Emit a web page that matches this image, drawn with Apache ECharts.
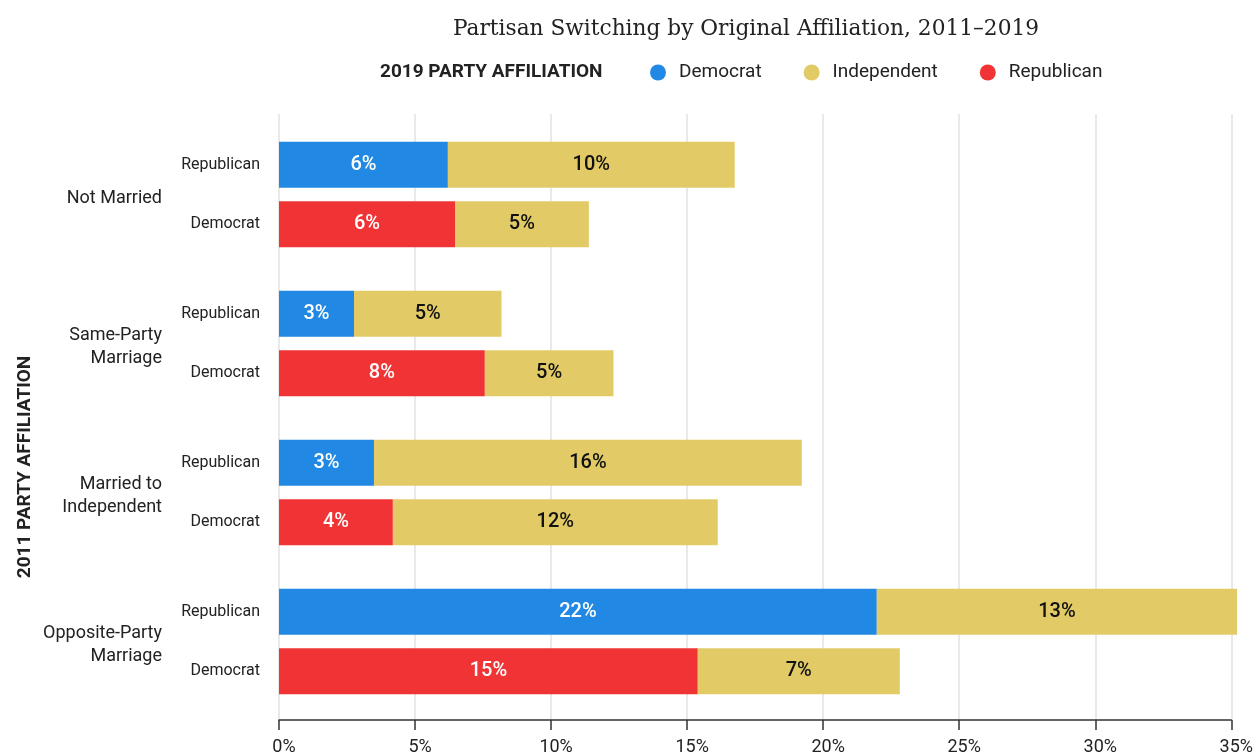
<!DOCTYPE html>
<html>
<head>
<meta charset="utf-8">
<script src="https://cdn.jsdelivr.net/npm/echarts@6/dist/echarts.min.js"></script>
<style>
  html, body { margin: 0; padding: 0; background: #ffffff; }
  #chart { width: 1256px; height: 756px; }
</style>
</head>
<body>
<div id="chart"></div>
<script>
// Household type of each group of 2011 party members
const groups = ['Not Married', 'Same-Party\nMarriage', 'Married to\nIndependent', 'Opposite-Party\nMarriage'];
// Row captions inside each group (2011 affiliation)
const rowNames = ['Republican', 'Democrat'];

// Share (%) of 2011 Republicans who were Democrats / Independents in 2019
const repToDemocrat    = [6.17, 2.74, 3.47, 21.84];
const repToIndependent = [10.48, 5.39, 15.63, 13.16];
// Share (%) of 2011 Democrats who were Republicans / Independents in 2019
const demToRepublican  = [6.43, 7.52, 4.16, 15.30];
const demToIndependent = [4.89, 4.70, 11.87, 7.38];
// Zero-length anchors that carry the row captions at the start of each bar
const rowAnchor = [0, 0, 0, 0];

// Percent axis
const axisMin = 0;
const axisMax = 35;
const axisStep = 5;

const legendNames = ['Democrat', 'Independent', 'Republican'];

const COLORS = {
  Democrat: '#2188e3',
  Independent: '#e2cb67',
  Republican: '#f03436'
};
const FONT = 'Roboto, "Noto Sans", sans-serif';
const BAR_W = 46;

function valueLabel(color) {
  return {
    show: true,
    position: 'inside',
    fontFamily: FONT,
    fontSize: 20,
    fontWeight: 500,
    color: color,
    formatter: p => Math.round(p.value) + '%'
  };
}

function rowCaption(text) {
  return {
    show: true,
    position: 'left',
    distance: 19,
    fontFamily: FONT,
    fontSize: 16,
    color: '#222',
    formatter: () => text
  };
}

function barSeries(name, stack, data, color, label) {
  return {
    name: name,
    type: 'bar',
    stack: stack,
    xAxisIndex: 0,
    yAxisIndex: 0,
    barWidth: BAR_W,
    barGap: '29%',
    data: data,
    itemStyle: { color: color },
    label: label,
    emphasis: { disabled: true },
    animation: false
  };
}

const chart = echarts.init(document.getElementById('chart'), null, { renderer: 'canvas' });

chart.setOption({
  backgroundColor: '#ffffff',
  animation: false,
  title: [
    {
      text: 'Partisan Switching by Original Affiliation, 2011\u20132019',
      left: 746,
      top: 18,
      textAlign: 'center',
      padding: 0,
      textStyle: {
        fontFamily: '"DejaVu Serif", serif',
        fontSize: 21.7,
        fontWeight: 'normal',
        color: '#222'
      }
    },
    {
      text: '2019 PARTY AFFILIATION',
      left: 380,
      top: 63,
      padding: 0,
      textStyle: {
        fontFamily: FONT,
        fontSize: 19,
        fontWeight: 'bold',
        color: '#222'
      }
    }
  ],
  legend: {
    data: legendNames,
    left: 650,
    top: 63,
    padding: 0,
    icon: 'circle',
    itemWidth: 32,
    itemHeight: 16,
    itemGap: 42,
    selectedMode: false,
    textStyle: { fontFamily: FONT, fontSize: 19, color: '#222' }
  },
  graphic: [
    {
      type: 'text',
      x: 25,
      y: 467,
      rotation: Math.PI / 2,
      style: {
        text: '2011 PARTY AFFILIATION',
        fontFamily: FONT,
        fontSize: 19,
        fontWeight: 'bold',
        fill: '#222',
        align: 'center',
        verticalAlign: 'middle'
      }
    }
  ],
  grid: [
    // bars
    { left: 279, right: 19, top: 120, bottom: 40 },
    // gridlines and percent axis
    { left: 279, right: 19, top: 114, bottom: 34 }
  ],
  xAxis: [
    { gridIndex: 0, type: 'value', min: axisMin, max: axisMax, interval: axisStep, show: false },
    {
      gridIndex: 1,
      type: 'value',
      min: axisMin,
      max: axisMax,
      interval: axisStep,
      axisLine: { show: true, lineStyle: { color: '#333', width: 1.5 } },
      axisTick: { show: true, length: 10, lineStyle: { color: '#333', width: 1.5 } },
      axisLabel: {
        margin: 18,
        fontFamily: FONT,
        fontSize: 18,
        color: '#222',
        padding: [0, 0, 0, 10],
        formatter: '{value}%'
      },
      splitLine: { show: true, lineStyle: { color: '#e2e2e2', width: 1.5 } }
    }
  ],
  yAxis: [
    {
      gridIndex: 0,
      type: 'category',
      data: groups,
      inverse: true,
      axisLine: { show: false },
      axisTick: { show: false },
      splitLine: { show: false },
      axisLabel: {
        margin: 117,
        fontFamily: FONT,
        fontSize: 18,
        lineHeight: 23,
        color: '#222',
        align: 'right',
        // a short empty line above each name nudges the block slightly downward
        formatter: v => '{gap|}\n' + v,
        rich: {
          gap: { height: 7, lineHeight: 7, fontSize: 1 }
        }
      }
    },
    { gridIndex: 1, type: 'value', min: 0, max: 1, show: false }
  ],
  series: [
    barSeries('rowRepublican', 'rep', rowAnchor, 'rgba(0,0,0,0)', rowCaption(rowNames[0])),
    barSeries('Democrat', 'rep', repToDemocrat, COLORS.Democrat, valueLabel('#ffffff')),
    barSeries('Independent', 'rep', repToIndependent, COLORS.Independent, valueLabel('#111111')),
    barSeries('rowDemocrat', 'dem', rowAnchor, 'rgba(0,0,0,0)', rowCaption(rowNames[1])),
    barSeries('Republican', 'dem', demToRepublican, COLORS.Republican, valueLabel('#ffffff')),
    barSeries('Independent', 'dem', demToIndependent, COLORS.Independent, valueLabel('#111111'))
  ]
});
</script>
</body>
</html>
